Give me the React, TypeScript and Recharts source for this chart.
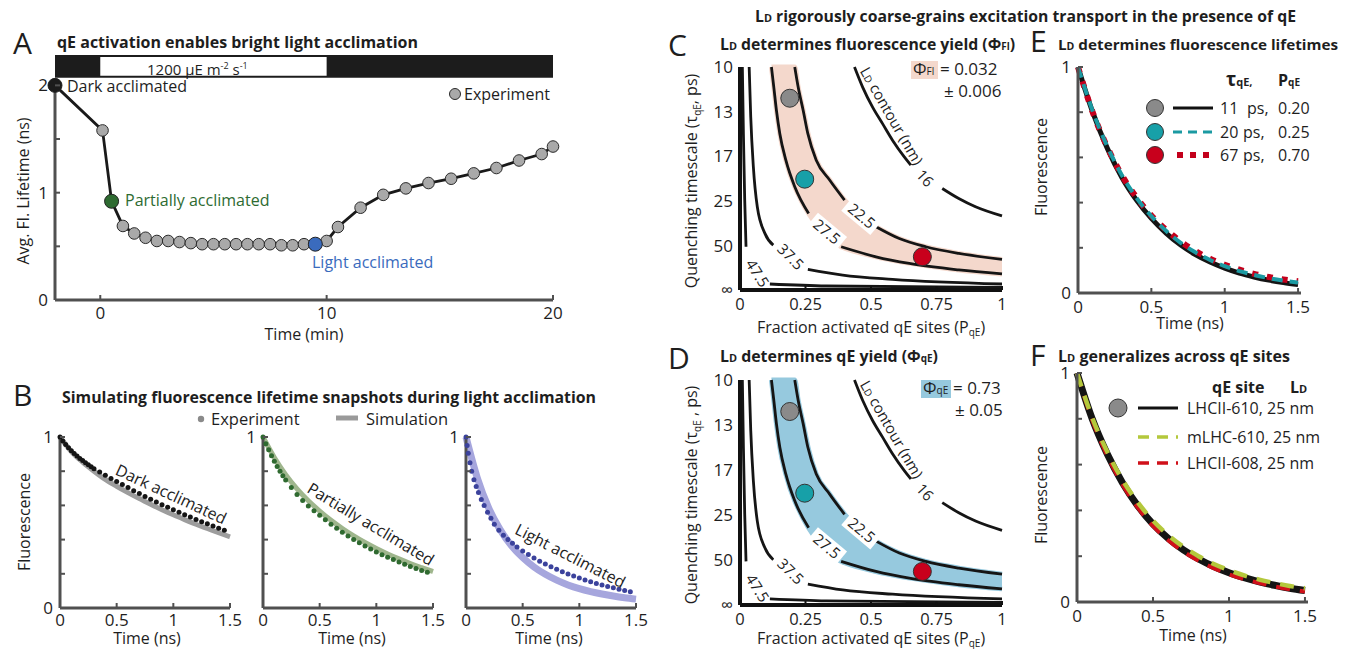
import React from 'react';
import { ComposedChart, Line, Scatter, Area, XAxis, YAxis, ReferenceArea, ReferenceDot } from 'recharts';

const FONT = '"Open Sans", "Noto Sans", sans-serif';
const INK = '#1e1e1e';
const GREY_AXIS = '#505050';

// ---- A: average lifetime during light acclimation ----
const aTime = [-2, 0.1, 0.5, 1, 1.5, 2, 2.5, 3, 3.5, 4, 4.5, 5, 5.5, 6, 6.5, 7, 7.5, 8, 8.5, 9, 9.5, 10, 10.5, 11.5, 12.5, 13.5, 14.5, 15.5, 16.5, 17.5, 18.5, 19.5, 20];
const aLifetime = [2.0, 1.58, 0.92, 0.69, 0.62, 0.58, 0.55, 0.55, 0.54, 0.53, 0.52, 0.52, 0.52, 0.52, 0.52, 0.52, 0.52, 0.51, 0.51, 0.52, 0.52, 0.55, 0.68, 0.86, 0.98, 1.04, 1.09, 1.13, 1.18, 1.23, 1.3, 1.36, 1.43];
const aMarked = [0, 2, 20]; // dark, partially, light acclimated
const aLightOn = 0;
const aLightOff = 10;

// ---- B: lifetime snapshots ----
const bSimT = [0, 0.1, 0.2, 0.3, 0.4, 0.5, 0.6, 0.7, 0.8, 0.9, 1, 1.1, 1.2, 1.3, 1.4, 1.5];
const bDarkExpT = [0, 0.025, 0.05, 0.075, 0.1, 0.125, 0.15, 0.175, 0.2, 0.225, 0.25, 0.275, 0.3, 0.35, 0.4, 0.45, 0.5, 0.55, 0.6, 0.65, 0.7, 0.75, 0.8, 0.85, 0.9, 0.95, 1, 1.05, 1.1, 1.15, 1.2, 1.25, 1.3, 1.35, 1.4, 1.45];
const bDarkExpV = [1, 0.977, 0.956, 0.937, 0.92, 0.904, 0.889, 0.875, 0.862, 0.849, 0.837, 0.826, 0.815, 0.795, 0.776, 0.758, 0.74, 0.722, 0.704, 0.686, 0.669, 0.652, 0.636, 0.62, 0.604, 0.589, 0.574, 0.56, 0.546, 0.532, 0.518, 0.505, 0.492, 0.479, 0.466, 0.454];
const bDarkSimV = [1, 0.915, 0.853, 0.8, 0.752, 0.712, 0.675, 0.64, 0.607, 0.575, 0.545, 0.517, 0.49, 0.465, 0.44, 0.416];
const bPartExpT = [0, 0.025, 0.05, 0.075, 0.1, 0.125, 0.15, 0.175, 0.2, 0.25, 0.3, 0.35, 0.4, 0.45, 0.5, 0.55, 0.6, 0.65, 0.7, 0.75, 0.8, 0.85, 0.9, 0.95, 1, 1.05, 1.1, 1.15, 1.2, 1.25, 1.3, 1.35, 1.4, 1.45];
const bPartExpV = [1, 0.96, 0.925, 0.89, 0.858, 0.828, 0.8, 0.774, 0.749, 0.704, 0.664, 0.628, 0.596, 0.568, 0.542, 0.516, 0.49, 0.466, 0.443, 0.421, 0.401, 0.381, 0.363, 0.345, 0.328, 0.312, 0.297, 0.283, 0.269, 0.256, 0.243, 0.231, 0.22, 0.209];
const bPartSimV = [1, 0.88, 0.78, 0.697, 0.627, 0.567, 0.513, 0.465, 0.422, 0.383, 0.348, 0.316, 0.287, 0.26, 0.236, 0.213];
const bLightExpT = [0, 0.01, 0.02, 0.035, 0.05, 0.07, 0.09, 0.11, 0.135, 0.16, 0.19, 0.22, 0.25, 0.29, 0.33, 0.37, 0.41, 0.45, 0.5, 0.55, 0.6, 0.65, 0.7, 0.75, 0.8, 0.85, 0.9, 0.95, 1, 1.05, 1.1, 1.15, 1.2, 1.25, 1.3, 1.35, 1.4, 1.45];
const bLightExpV = [1, 0.95, 0.905, 0.85, 0.8, 0.75, 0.71, 0.675, 0.635, 0.6, 0.56, 0.525, 0.49, 0.455, 0.425, 0.4, 0.378, 0.357, 0.334, 0.313, 0.293, 0.274, 0.257, 0.241, 0.226, 0.212, 0.199, 0.187, 0.175, 0.164, 0.154, 0.144, 0.135, 0.126, 0.118, 0.11, 0.102, 0.095];
const bLightSimV = [1, 0.76, 0.585, 0.46, 0.365, 0.295, 0.24, 0.197, 0.163, 0.135, 0.113, 0.096, 0.082, 0.07, 0.06, 0.052];

// ---- C / D: L_D contours over (P_qE, 1/tau_qE) ----
const contour16a = [[0.437, 0.1], [0.468, 0.091], [0.506, 0.082], [0.544, 0.0746], [0.582, 0.0672], [0.627, 0.0597], [0.652, 0.056]];
const contour16b = [[0.772, 0.0455], [0.835, 0.041], [0.899, 0.0373], [1, 0.0332]];
const contour225a = [[0.209, 0.1], [0.222, 0.091], [0.241, 0.0806], [0.259, 0.0701], [0.291, 0.0582], [0.342, 0.0493], [0.399, 0.0403]];
const contour225b = [[0.519, 0.0284], [0.608, 0.0231], [0.709, 0.0194], [0.835, 0.0164], [1, 0.0137]];
const contour275a = [[0.12, 0.1], [0.129, 0.091], [0.139, 0.0806], [0.152, 0.0701], [0.175, 0.0582], [0.209, 0.0463], [0.262, 0.0343]];
const contour275b = [[0.386, 0.0194], [0.519, 0.0149], [0.646, 0.0119], [0.835, 0.009], [1, 0.0072]];
const contour375a = [[0.035, 0.1], [0.041, 0.0776], [0.051, 0.0552], [0.066, 0.0373], [0.095, 0.0254], [0.127, 0.0201]];
const contour375b = [[0.259, 0.0093], [0.392, 0.0067], [0.582, 0.0048], [1, 0.0027]];
const contour475a = [[0.009, 0.1], [0.013, 0.0701], [0.018, 0.0403], [0.023, 0.0194]];
const contour475b = [[0.114, 0.0027], [0.329, 0.0018], [1, 0.0012]];
const bandP = [0.12, 0.129, 0.139, 0.152, 0.175, 0.209, 0.222, 0.241, 0.262, 0.291, 0.342, 0.386, 0.399, 0.519, 0.608, 0.709, 0.835, 1];
const bandLo = [0.1, 0.091, 0.0806, 0.0701, 0.0582, 0.0463, 0.043, 0.0385, 0.0343, 0.0295, 0.024, 0.0194, 0.0188, 0.0149, 0.0128, 0.011, 0.009, 0.0072];
const bandHi = [0.1, 0.1, 0.1, 0.1, 0.1, 0.1, 0.091, 0.0806, 0.069, 0.0582, 0.0493, 0.0423, 0.0403, 0.0284, 0.0231, 0.0194, 0.0164, 0.0137];
const qeP = [0.19, 0.247, 0.696];
const qeRate = [0.086, 0.0497, 0.0149];
const rateTicks = [0, 0.02, 0.04, 0.06, 0.08, 0.1];
const rateTickLabels = ['\u221e', '50', '25', '17', '13', '10'];

// ---- E / F: fluorescence decays ----
const decayT = [0, 0.1, 0.2, 0.3, 0.4, 0.5, 0.6, 0.7, 0.8, 0.9, 1, 1.1, 1.2, 1.3, 1.4, 1.5];
const e11ps = [1, 0.8, 0.64, 0.51, 0.41, 0.33, 0.265, 0.212, 0.17, 0.137, 0.11, 0.088, 0.071, 0.057, 0.046, 0.037];
const e20ps = [1, 0.805, 0.648, 0.52, 0.42, 0.34, 0.275, 0.222, 0.18, 0.146, 0.119, 0.097, 0.08, 0.066, 0.055, 0.046];
const e67ps = [1, 0.8, 0.645, 0.52, 0.422, 0.343, 0.28, 0.228, 0.186, 0.152, 0.125, 0.103, 0.085, 0.071, 0.06, 0.052];
const fLhcii610 = [1, 0.8, 0.645, 0.52, 0.42, 0.34, 0.278, 0.228, 0.188, 0.155, 0.128, 0.106, 0.088, 0.073, 0.06, 0.05];
const fMlhc610 = [1, 0.805, 0.655, 0.532, 0.435, 0.355, 0.292, 0.241, 0.2, 0.166, 0.139, 0.116, 0.098, 0.083, 0.07, 0.06];
const fLhcii608 = [1, 0.795, 0.638, 0.512, 0.412, 0.332, 0.27, 0.22, 0.18, 0.148, 0.121, 0.1, 0.083, 0.068, 0.056, 0.046];

// plot boxes (pixel position of the plotting area on the page)
const PAD = 40;
const M = { top: PAD, right: PAD, bottom: 0, left: 0 };
const boxA = { x0: 55, y0: 80, x1: 553, y1: 300 };
const boxB1 = { x0: 60, y0: 437, x1: 230, y1: 608 };
const boxB2 = { x0: 263, y0: 437, x1: 433, y1: 608 };
const boxB3 = { x0: 466, y0: 437, x1: 636, y1: 608 };
const boxC = { x0: 740, y0: 67, x1: 1002, y1: 290 };
const boxD = { x0: 740, y0: 380, x1: 1002, y1: 605 };
const boxE = { x0: 1078, y0: 67, x1: 1301, y1: 293 };
const boxF = { x0: 1077, y0: 373, x1: 1308, y1: 602 };

const frame = (b: any) => ({
  style: { position: 'absolute' as const, left: b.x0 - PAD, top: b.y0 - PAD },
  width: b.x1 - b.x0 + 2 * PAD,
  height: b.y1 - b.y0 + 2 * PAD,
});

const rows = (xs: number[], ys: number[]) => xs.map((t, i) => ({ t, v: ys[i] }));

const yTick = (labels: Record<string, string>, color: string, len: number) => (p: any) => {
  const lab = labels[String(p.payload.value)];
  return (
    <g>
      {len > 0 && <line x1={p.x} x2={p.x + len} y1={p.y} y2={p.y} stroke={color} strokeWidth={2} />}
      {lab !== undefined && (
        <text x={p.x - 7} y={p.y} dy="0.36em" textAnchor="end" fontSize={17} fill={INK} fontFamily={FONT}>{lab}</text>
      )}
    </g>
  );
};

const xTick = (labels: Record<string, string>, color: string, len: number, dy: number, size = 17) => (p: any) => {
  const lab = labels[String(p.payload.value)];
  return (
    <g>
      {len > 0 && <line x1={p.x} x2={p.x} y1={p.y} y2={p.y - len} stroke={color} strokeWidth={2} />}
      {lab !== undefined && (
        <text x={p.x} y={p.y + dy} textAnchor="middle" fontSize={size} fill={INK} fontFamily={FONT}>{lab}</text>
      )}
    </g>
  );
};

const tag = (txt: React.ReactNode, angle: number, size: number, bg = 0) => (p: any) => (
  <g transform={`rotate(${angle} ${p.cx} ${p.cy})`}>
    {bg > 0 && <rect x={p.cx - bg / 2} y={p.cy - size * 0.6} width={bg} height={size * 1.2} fill="#fff" />}
    <text x={p.cx} y={p.cy} dy="0.35em" textAnchor="middle" fontSize={size} fontFamily={FONT} fill={INK}>{txt}</text>
  </g>
);

const circleShape = (r: number, fill: string, stroke = 'none') => (p: any) => (
  <circle cx={p.cx} cy={p.cy} r={r} fill={fill} stroke={stroke} strokeWidth={1} />
);

function PanelA() {
  const f = frame(boxA);
  const data = rows(aTime, aLifetime);
  const markColors = ['#1b1b1b', '#2e6b31', '#3a6bbd'];
  const tFirst = aTime[0];
  const tLast = aTime[aTime.length - 1];
  // light/dark strip sits just above the plotting area (in lifetime units above the top of the axis)
  const stripLo = 2.071;
  const stripHi = 2.283;
  const stripPad = 0.018;
  return (
    <div style={f.style}>
      <ComposedChart width={f.width} height={f.height} margin={M} data={data}>
        <XAxis type="number" dataKey="t" domain={[tFirst, tLast]} ticks={[0, 10, 20]} interval={0} height={PAD}
          tickSize={0} tickMargin={0} tickLine={false} axisLine={{ stroke: GREY_AXIS, strokeWidth: 3 }}
          tick={xTick({ '0': '0', '10': '10', '20': '20' }, GREY_AXIS, 5, 19)} />
        <YAxis type="number" domain={[0, 2.05]} ticks={[0, 0.5, 1, 1.5, 2]} interval={0} width={PAD}
          tickSize={0} tickMargin={0} tickLine={false} axisLine={{ stroke: GREY_AXIS, strokeWidth: 3 }}
          tick={yTick({ '0': '0', '1': '1', '2': '2' }, GREY_AXIS, 5)} />
        <ReferenceArea x1={tFirst} x2={tLast} y1={stripLo} y2={stripHi} fill="#1c1c1c" fillOpacity={1}
          stroke="none" ifOverflow="visible" />
        <ReferenceArea x1={aLightOn} x2={aLightOff} y1={stripLo + stripPad} y2={stripHi - stripPad} fill="#fff"
          fillOpacity={1} stroke="none" ifOverflow="visible" />
        <Line dataKey="v" type="linear" stroke="#1a1a1a" strokeWidth={2.8}
          dot={{ r: 5.8, fill: '#a9a9a9', stroke: '#2a2a2a', strokeWidth: 1 }} isAnimationActive={false} />
        {aMarked.map((idx, i) => (
          <Scatter key={idx} data={[data[idx]]} dataKey="v" shape={circleShape(7, markColors[i], '#222')} isAnimationActive={false} />
        ))}
      </ComposedChart>
    </div>
  );
}

function DecayPlot({ box, expT, expV, simV, dotColor, simColor, simWidth, yLabels, label, at, angle }: any) {
  const f = frame(box);
  return (
    <div style={f.style}>
      <ComposedChart width={f.width} height={f.height} margin={M}>
        <XAxis type="number" dataKey="t" domain={[0, 1.5]} ticks={[0, 0.5, 1, 1.5]} interval={0} height={PAD}
          tickSize={0} tickMargin={0} tickLine={false} axisLine={{ stroke: GREY_AXIS, strokeWidth: 3 }}
          tick={xTick({ '0': '0', '0.5': '0.5', '1': '1', '1.5': '1.5' }, GREY_AXIS, 5, 18)} />
        <YAxis type="number" domain={[0, 1]} ticks={[0, 0.2, 0.4, 0.6, 0.8, 1]} interval={0} width={PAD}
          tickSize={0} tickMargin={0} tickLine={false} axisLine={{ stroke: GREY_AXIS, strokeWidth: 3 }}
          tick={yTick(yLabels, GREY_AXIS, 5)} />
        <Line data={rows(bSimT, simV)} dataKey="v" type="monotone" stroke={simColor} strokeWidth={simWidth}
          dot={false} isAnimationActive={false} />
        <Scatter data={rows(expT, expV)} dataKey="v" shape={circleShape(2.5, dotColor)} isAnimationActive={false} />
        <ReferenceDot x={at[0]} y={at[1]} r={0} ifOverflow="visible" shape={tag(label, angle, 16)} />
      </ComposedChart>
    </div>
  );
}

function ContourPanel({ box, bandColor }: any) {
  const f = frame(box);
  const segs = [contour16a, contour16b, contour225a, contour225b, contour275a, contour275b, contour375a, contour375b, contour475a, contour475b];
  const band = bandP.map((p, i) => ({ p, band: [bandLo[i], bandHi[i]] }));
  const pts = qeP.map((p, i) => ({ p, k: qeRate[i] }));
  const ptColors = ['#8a8a8a', '#17a0a8', '#c8001c'];
  const yl: Record<string, string> = {};
  rateTicks.forEach((t, i) => { yl[String(t)] = rateTickLabels[i]; });
  const labels = [
    { txt: '16', p: 0.706, k: 0.0501, a: 48, bg: 0 },
    { txt: '22.5', p: 0.464, k: 0.0332, a: 40, bg: 38 },
    { txt: '27.5', p: 0.331, k: 0.0261, a: 40, bg: 38 },
    { txt: '37.5', p: 0.193, k: 0.0149, a: 45, bg: 0 },
    { txt: '47.5', p: 0.066, k: 0.0075, a: 58, bg: 0 },
  ];
  return (
    <div style={f.style}>
      <ComposedChart width={f.width} height={f.height} margin={M}>
        <XAxis type="number" dataKey="p" domain={[0, 1]} ticks={[0, 0.25, 0.5, 0.75, 1]} interval={0} height={PAD}
          tickSize={0} tickMargin={0} tickLine={false} axisLine={{ stroke: '#111', strokeWidth: 4 }}
          tick={xTick({ '0': '0', '0.25': '0.25', '0.5': '0.5', '0.75': '0.75', '1': '1' }, '#111', 4, 20, 16.5)} />
        <YAxis type="number" domain={[0, 0.1]} ticks={rateTicks} interval={0} width={PAD}
          tickSize={0} tickMargin={0} tickLine={false} axisLine={{ stroke: '#111', strokeWidth: 4 }}
          tick={yTick(yl, '#111', 0)} />
        <Area data={band} dataKey="band" type="monotone" fill={bandColor} fillOpacity={1} stroke={bandColor}
          strokeWidth={5} isAnimationActive={false} />
        {segs.map((s, i) => (
          <Line key={i} data={s.map(([p, k]) => ({ p, k }))} dataKey="k" type="monotone" stroke="#151515"
            strokeWidth={2.8} dot={false} isAnimationActive={false} />
        ))}
        {labels.map((l) => (
          <ReferenceDot key={l.txt} x={l.p} y={l.k} r={0} ifOverflow="visible" shape={tag(l.txt, l.a, 15, l.bg)} />
        ))}
        <ReferenceDot x={0.578} y={0.078} r={0} ifOverflow="visible"
          shape={tag(<>L<tspan fontSize={10}>D</tspan> contour (nm)</>, 60, 15)} />
        {pts.map((pt, i) => (
          <Scatter key={i} data={[pt]} dataKey="k" shape={circleShape(9, ptColors[i], '#333')} isAnimationActive={false} />
        ))}
      </ComposedChart>
    </div>
  );
}

function DecayLD({ box, series }: any) {
  const f = frame(box);
  return (
    <div style={f.style}>
      <ComposedChart width={f.width} height={f.height} margin={M}>
        <XAxis type="number" dataKey="t" domain={[0, 1.52]} ticks={[0, 0.5, 1, 1.5]} interval={0} height={PAD}
          tickSize={0} tickMargin={0} tickLine={false} axisLine={{ stroke: GREY_AXIS, strokeWidth: 3 }}
          tick={xTick({ '0': '0', '0.5': '0.5', '1': '1', '1.5': '1.5' }, GREY_AXIS, 5, 20)} />
        <YAxis type="number" domain={[0, 1]} ticks={[0, 0.2, 0.4, 0.6, 0.8, 1]} interval={0} width={PAD}
          tickSize={0} tickMargin={0} tickLine={false} axisLine={{ stroke: GREY_AXIS, strokeWidth: 3 }}
          tick={yTick({ '0': '0', '1': '1' }, GREY_AXIS, 5)} />
        {series.map((s: any, i: number) => (
          <Line key={i} data={rows(decayT, s.v)} dataKey="v" type="monotone" stroke={s.color} strokeWidth={s.w}
            strokeDasharray={s.dash} dot={false} isAnimationActive={false} />
        ))}
      </ComposedChart>
    </div>
  );
}

const sub = (s: string, size = 10) => <tspan fontSize={size}>{s}</tspan>;

function Overlay() {
  const t = (x: number, y: number, content: React.ReactNode, o: any = {}) => (
    <text x={x} y={y} fontSize={o.size ?? 16} fontWeight={o.weight ?? 400} textAnchor={o.anchor ?? 'start'}
      fill={o.fill ?? INK} fontFamily={FONT} textLength={o.len} lengthAdjust={o.len ? 'spacingAndGlyphs' : undefined}
      transform={o.rot ? `rotate(${o.rot} ${x} ${y})` : undefined}>{content}</text>
  );
  const title = (x: number, y: number, len: number, content: React.ReactNode, size = 16) =>
    t(x, y, content, { weight: 700, size, len });
  const letter = (x: number, y: number, s: string) => t(x, y, s, { size: 30 });
  return (
    <svg width={1348} height={649} style={{ position: 'absolute', left: 0, top: 0, pointerEvents: 'none' }}>
      {/* A */}
      {letter(13, 54, 'A')}
      {title(57, 48, 361, 'qE activation enables bright light acclimation')}
      {t(147, 75, <>1200 {'\u03bc'}E m<tspan dy={-6} fontSize={9}>-2</tspan><tspan dy={6}> s</tspan><tspan dy={-6} fontSize={9}>-1</tspan></>, { size: 15 })}
      {t(67, 92, 'Dark acclimated')}
      {t(125, 206, 'Partially acclimated', { fill: '#2e6b31' })}
      {t(312, 268, 'Light acclimated', { fill: '#3a6bbd' })}
      <circle cx={455} cy={94} r={5.5} fill="#a9a9a9" stroke="#2a2a2a" strokeWidth={1} />
      {t(464, 100, 'Experiment')}
      {t(29, 191, 'Avg. Fl. Lifetime (ns)', { rot: -90, anchor: 'middle' })}
      {t(304, 340, 'Time (min)', { anchor: 'middle' })}

      {/* B */}
      {letter(13, 406, 'B')}
      {title(62, 403, 534, 'Simulating fluorescence lifetime snapshots during light acclimation')}
      <circle cx={201} cy={419} r={3.2} fill="#8a8a8a" />
      {t(211, 425, 'Experiment', { size: 16.5 })}
      <line x1={336} x2={358} y1={418} y2={418} stroke="#9a9a9a" strokeWidth={5} />
      {t(366, 425, 'Simulation', { size: 16.5 })}
      {t(30, 522, 'Fluorescence', { rot: -90, anchor: 'middle' })}
      {t(147, 644, 'Time (ns)', { anchor: 'middle' })}
      {t(352, 644, 'Time (ns)', { anchor: 'middle' })}
      {t(549, 644, 'Time (ns)', { anchor: 'middle' })}

      {/* header */}
      {title(755, 22, 541, <>L{sub('D', 11)} rigorously coarse-grains excitation transport in the presence of qE</>)}

      {/* C */}
      {letter(668, 56, 'C')}
      {title(720, 50, 295, <>L{sub('D', 11)} determines fluorescence yield ({'\u03a6'}{sub('Fl', 10)})</>)}
      <rect x={911} y={61} width={27} height={18} fill="#f4d8cc" />
      {t(913, 75, <>{'\u03a6'}{sub('Fl', 10)}</>, { size: 17 })}
      {t(940, 75, '= 0.032', { size: 17 })}
      {t(944, 97, '\u00b1 0.006', { size: 17 })}
      {t(697, 181, <>Quenching timescale ({'\u03c4'}<tspan fontSize={10} dy={4}>qE</tspan><tspan dy={-4}>, ps)</tspan></>, { rot: -90, anchor: 'middle' })}
      {t(871, 333, <>Fraction activated qE sites (P<tspan fontSize={10} dy={3}>qE</tspan><tspan dy={-3}>)</tspan></>, { anchor: 'middle' })}

      {/* D */}
      {letter(668, 369, 'D')}
      {title(720, 362, 218, <>L{sub('D', 11)} determines qE yield ({'\u03a6'}{sub('qE', 10)})</>)}
      <rect x={921} y={380} width={30} height={18} fill="#96c9de" />
      {t(923, 394, <>{'\u03a6'}{sub('qE', 10)}</>, { size: 17 })}
      {t(953, 394, '= 0.73', { size: 17 })}
      {t(955, 416, '\u00b1 0.05', { size: 17 })}
      {t(697, 495, <>Quenching timescale ({'\u03c4'}<tspan fontSize={10} dy={4}>qE</tspan><tspan dy={-4}> , ps)</tspan></>, { rot: -90, anchor: 'middle' })}
      {t(871, 644, <>Fraction activated qE sites (P<tspan fontSize={10} dy={3}>qE</tspan><tspan dy={-3}>)</tspan></>, { anchor: 'middle' })}

      {/* E */}
      {letter(1030, 52, 'E')}
      {title(1058, 50, 280, <>L{sub('D', 10)} determines fluorescence lifetimes</>, 14.5)}
      {t(1226, 86, <>{'\u03c4'}<tspan fontSize={11}>qE,</tspan></>, { weight: 700, size: 19 })}
      {t(1278, 86, <>P<tspan fontSize={10}>qE</tspan></>, { weight: 700, size: 16 })}
      <circle cx={1155} cy={108} r={8.5} fill="#8a8a8a" stroke="#333" />
      <circle cx={1155} cy={132} r={8.5} fill="#17a0a8" stroke="#333" />
      <circle cx={1155} cy={155} r={8.5} fill="#c8001c" stroke="#333" />
      <line x1={1173} x2={1213} y1={108} y2={108} stroke="#111" strokeWidth={3} />
      <line x1={1173} x2={1213} y1={132} y2={132} stroke="#1b9aa2" strokeWidth={3} strokeDasharray="9 6" />
      <line x1={1177} x2={1213} y1={155} y2={155} stroke="#c3001c" strokeWidth={6} strokeDasharray="6 7" />
      {t(1220, 114, '11')}{t(1247, 114, 'ps,')}{t(1278, 114, '0.20')}
      {t(1220, 138, '20')}{t(1243, 138, 'ps,')}{t(1278, 138, '0.25')}
      {t(1220, 161, '67')}{t(1243, 161, 'ps,')}{t(1278, 161, '0.70')}
      {t(1047, 167, 'Fluorescence', { rot: -90, anchor: 'middle' })}
      {t(1190, 329, 'Time (ns)', { anchor: 'middle' })}

      {/* F */}
      {letter(1030, 366, 'F')}
      {title(1058, 362, 232, <>L{sub('D', 11)} generalizes across qE sites</>)}
      {t(1212, 393, 'qE site', { weight: 700 })}
      {t(1290, 393, <>L{sub('D', 11)}</>, { weight: 700 })}
      <circle cx={1118} cy={408} r={9} fill="#8a8a8a" stroke="#333" />
      <line x1={1138} x2={1178} y1={408} y2={408} stroke="#111" strokeWidth={3} />
      <line x1={1138} x2={1178} y1={437} y2={437} stroke="#b4c83c" strokeWidth={3.5} strokeDasharray="11 8" />
      <line x1={1138} x2={1178} y1={463} y2={463} stroke="#d0101a" strokeWidth={3.5} strokeDasharray="11 8" />
      {t(1187, 414, 'LHCII-610,  25 nm')}
      {t(1187, 443, 'mLHC-610, 25 nm')}
      {t(1187, 469, 'LHCII-608, 25 nm')}
      {t(1047, 495, 'Fluorescence', { rot: -90, anchor: 'middle' })}
      {t(1193, 641, 'Time (ns)', { anchor: 'middle' })}
    </svg>
  );
}

export default function App() {
  return (
    <div style={{ position: 'absolute', left: 0, top: 0, width: 1348, height: 649, background: '#fff', fontFamily: FONT, overflow: 'hidden' }}>
      <style>{'.recharts-surface{overflow:visible}'}</style>
      <PanelA />
      <DecayPlot box={boxB1} expT={bDarkExpT} expV={bDarkExpV} simV={bDarkSimV} dotColor="#151515" simColor="#9d9d9d"
        simWidth={5} yLabels={{ '0': '0', '1': '1' }} label="Dark acclimated" at={[0.98, 0.665]} angle={25} />
      <DecayPlot box={boxB2} expT={bPartExpT} expV={bPartExpV} simV={bPartSimV} dotColor="#2f6a30" simColor="#9fb68d"
        simWidth={5} yLabels={{ '1': '1' }} label="Partially acclimated" at={[0.95, 0.49]} angle={31} />
      <DecayPlot box={boxB3} expT={bLightExpT} expV={bLightExpV} simV={bLightSimV} dotColor="#3b429c" simColor="#a6a6dd"
        simWidth={7} yLabels={{ '1': '1' }} label="Light acclimated" at={[0.92, 0.305]} angle={27} />
      <ContourPanel box={boxC} bandColor="#f4d8cc" />
      <ContourPanel box={boxD} bandColor="#96c9de" />
      <DecayLD box={boxE} series={[
        { v: e11ps, color: '#141414', w: 5 },
        { v: e67ps, color: '#c3001c', w: 6, dash: '6 9' },
        { v: e20ps, color: '#1b9aa2', w: 4, dash: '11 7' },
      ]} />
      <DecayLD box={boxF} series={[
        { v: fLhcii610, color: '#141414', w: 7 },
        { v: fLhcii608, color: '#d0101a', w: 4, dash: '14 10' },
        { v: fMlhc610, color: '#b4c83c', w: 4.5, dash: '14 10' },
      ]} />
      <Overlay />
    </div>
  );
}
